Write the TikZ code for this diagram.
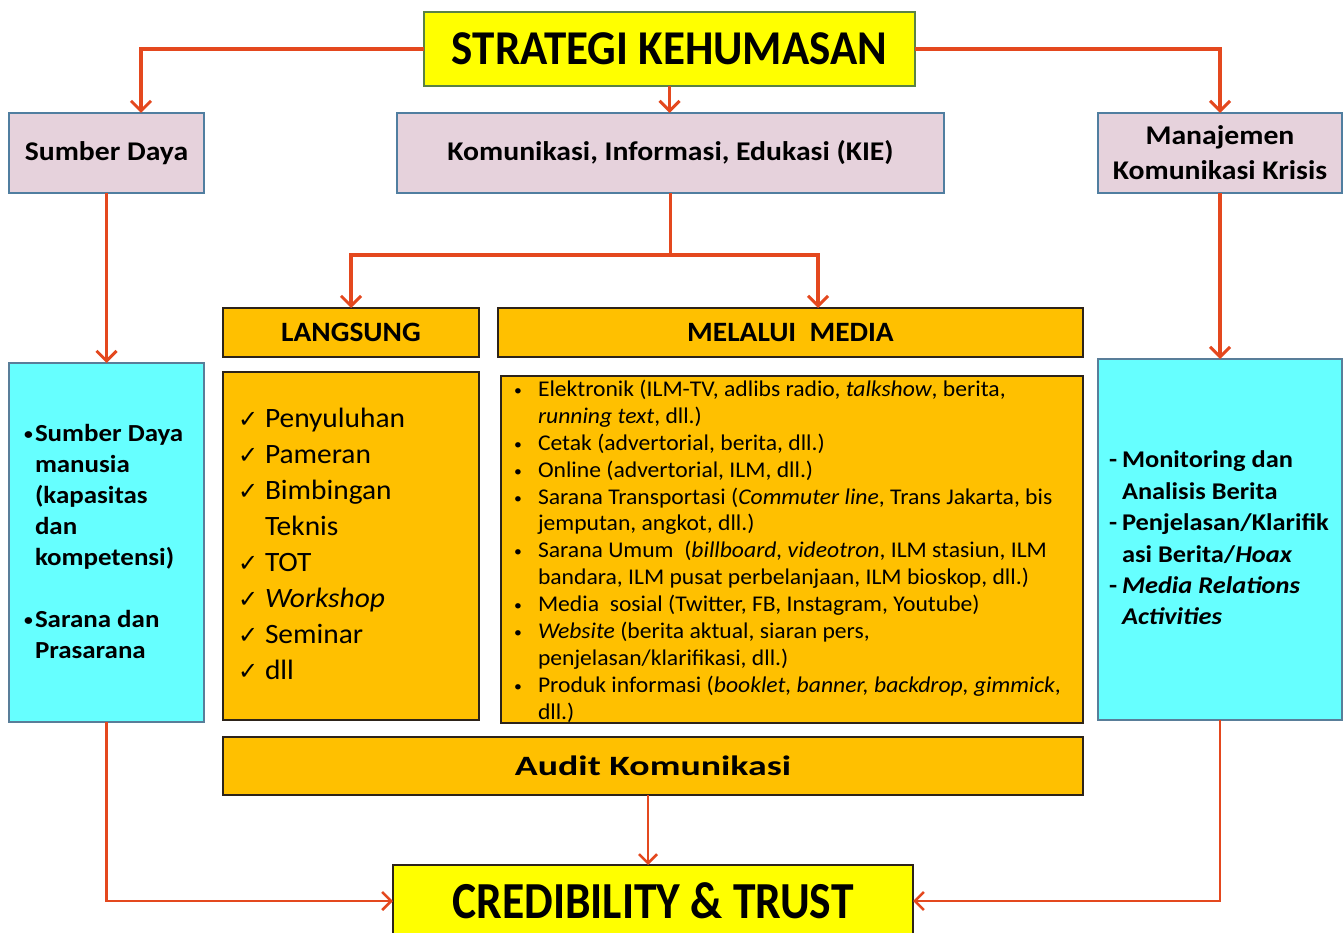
\documentclass[tikz,border=0pt]{standalone}
\usepackage{fontspec}
\setmainfont{Carlito}
\newfontfamily\djv{DejaVu Sans}
\newfontfamily\fA[FakeStretch=1.05]{Carlito}
\newfontfamily\fB[FakeStretch=1.1]{Carlito}
\newfontfamily\fC[FakeStretch=1.35]{Carlito}
\usetikzlibrary{arrows.meta}
\definecolor{yel}{RGB}{255,255,0}
\definecolor{pinkf}{RGB}{230,210,220}
\definecolor{orng}{RGB}{255,192,0}
\definecolor{cyn}{RGB}{102,255,255}
\definecolor{bblue}{RGB}{80,126,160}
\definecolor{bdark}{RGB}{45,35,25}
\definecolor{bgreen}{RGB}{90,130,70}
\definecolor{redl}{RGB}{228,72,30}
\newcommand{\chk}{\makebox[27pt][l]{\djv\fontsize{24}{24}\selectfont ✓}}
\newcommand{\blt}{\makebox[24pt][l]{\fontsize{15}{15}\selectfont\raisebox{1pt}{•}}}
\newcommand{\lblt}{\makebox[11pt][l]{\fontsize{16}{16}\selectfont\raisebox{2pt}{•}}}
\begin{document}
\begin{tikzpicture}[x=1pt,y=-1pt,
  box/.style={draw, line width=1.6pt, inner sep=0pt, outer sep=0pt, anchor=north west, align=center},
  yelbox/.style={box, fill=yel},
  pinkbox/.style={box, fill=pinkf, draw=bblue, font=\fB\bfseries\fontsize{27}{35}\selectfont},
  orbox/.style={box, fill=orng, draw=bdark},
  cybox/.style={box, fill=cyn, draw=bblue!80!gray},
  txt/.style={inner sep=0pt, outer sep=0pt, anchor=north west, align=left},
  conn/.style={draw=redl, line width=3.5pt},
  arr/.style={conn, -{Straight Barb[length=10pt,width=20pt,line width=3pt]}},
  arrs/.style={draw=redl, line width=2.6pt, -{Straight Barb[length=9pt,width=18pt,line width=2.6pt]}}
]
\useasboundingbox (0,0) rectangle (1343,933);
\fill[white] (0,0) rectangle (1343,933);

% top row
\node[yelbox, draw=bgreen, minimum width=491pt, minimum height=74pt, font=\bfseries\fontsize{45}{45}\selectfont] (title) at (424,12) {\scalebox{1}[1.08]{STRATEGI KEHUMASAN}};
\node[pinkbox, minimum width=195pt, minimum height=80pt] (sd) at (9,113) {Sumber Daya};
\node[pinkbox, minimum width=547pt, minimum height=80pt] (kie) at (397,113) {Komunikasi, Informasi, Edukasi (KIE)};
\node[pinkbox, minimum width=244pt, minimum height=80pt] (mk) at (1098,113) {Manajemen\\Komunikasi Krisis};

% second row
\node[orbox, minimum width=256pt, minimum height=49pt, font=\fA\bfseries\fontsize{28}{28}\selectfont] (lang) at (223,308) {LANGSUNG};
\node[orbox, minimum width=585pt, minimum height=49pt, font=\fA\bfseries\fontsize{28}{28}\selectfont] (media) at (498,308) {MELALUI\ \ MEDIA};

% list boxes
\node[cybox, minimum width=195pt, minimum height=359pt] (lc) at (9,363) {};
\node[orbox, minimum width=256pt, minimum height=348pt] (ll) at (223,372) {};
\node[orbox, minimum width=582pt, minimum height=347pt] (ml) at (501,376) {};
\node[cybox, minimum width=244pt, minimum height=361pt] (rc) at (1098,359) {};

\node[txt, font=\fB\bfseries\fontsize{24.5}{31}\selectfont] (lctxt) at (24,424) {%
\lblt Sumber Daya\\
\hspace*{11pt}manusia\\
\hspace*{11pt}(kapasitas\\
\hspace*{11pt}dan\\
\hspace*{11pt}kompetensi)\\[31pt]
\lblt Sarana dan\\
\hspace*{11pt}Prasarana};

\node[txt, font=\fA\fontsize{28}{36}\selectfont] (lltxt) at (238,408) {%
\chk Penyuluhan\\
\chk Pameran\\
\chk Bimbingan\\
\hspace*{27pt}Teknis\\
\chk TOT\\
\chk \textit{Workshop}\\
\chk Seminar\\
\chk dll};

\node[txt, font=\fA\fontsize{22.5}{26.9}\selectfont] (mltxt) at (514,380) {%
\blt Elektronik (ILM-TV, adlibs radio, \textit{talkshow}, berita,\\
\hspace*{24pt}\textit{running text}, dll.)\\
\blt Cetak (advertorial, berita, dll.)\\
\blt Online (advertorial, ILM, dll.)\\
\blt Sarana Transportasi (\textit{Commuter line}, Trans Jakarta, bis\\
\hspace*{24pt}jemputan, angkot, dll.)\\
\blt Sarana Umum\ \ (\textit{billboard, videotron}, ILM stasiun, ILM\\
\hspace*{24pt}bandara, ILM pusat perbelanjaan, ILM bioskop, dll.)\\
\blt Media\ \ sosial (Twitter, FB, Instagram, Youtube)\\
\blt \textit{Website} (berita aktual, siaran pers,\\
\hspace*{24pt}penjelasan/klarifikasi, dll.)\\
\blt Produk informasi (\textit{booklet, banner, backdrop, gimmick},\\
\hspace*{24pt}dll.)};

\node[txt, font=\fB\bfseries\fontsize{24}{31.4}\selectfont] (rctxt) at (1109,451) {%
\makebox[13pt][l]{-}Monitoring dan\\
\hspace*{13pt}Analisis Berita\\
\makebox[13pt][l]{-}Penjelasan/Klarifik\\
\hspace*{13pt}asi Berita/\textit{Hoax}\\
\makebox[13pt][l]{-}\textit{Media Relations}\\
\hspace*{13pt}\textit{Activities}};

% bottom
\node[orbox, minimum width=860pt, minimum height=58pt, font=\fC\bfseries\fontsize{28}{28}\selectfont] (audit) at (223,737) {Audit Komunikasi};
\node[yelbox, draw=bdark, minimum width=520pt, minimum height=72pt, font=\bfseries\fontsize{52}{52}\selectfont] (cred) at (393,865) {\scalebox{0.875}[1]{CREDIBILITY \& TRUST}};

% connectors
\draw[arr] (title.west) -| ([xshift=34.5pt]sd.north);
\draw[arr] (title.east) -| (mk.north);
\draw[arr] (title.south) -- (title.south |- kie.north);
\coordinate (split) at ([yshift=-62pt]kie.south);
\draw[conn] (kie.south) -- (split);
\draw[arr] (split) -| (lang.north);
\draw[arr] (split) -| ([xshift=27.5pt]media.north);
\draw[arr] (sd.south) -- (lc.north);
\draw[arr] (mk.south) -- (rc.north);
\draw[arrs] (lc.south) |- (cred.west);
\draw[arrs] (rc.south) |- (cred.east);
\draw[arrs] ([xshift=-5pt]audit.south) -- ([xshift=-5pt]audit.south |- cred.north);
\end{tikzpicture}
\end{document}
